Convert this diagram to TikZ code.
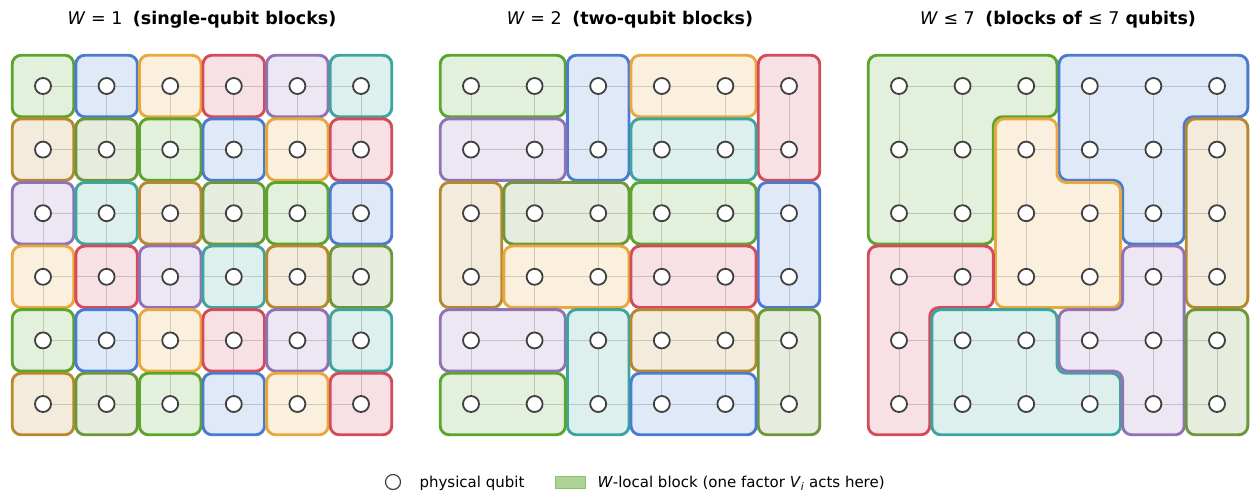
\documentclass[tikz,border=0pt]{standalone}
\usepackage{fontspec}
\setmainfont{DejaVu Sans}
\usetikzlibrary{backgrounds}

\definecolor{pal0}{HTML}{5BA52E}
\definecolor{pal1}{HTML}{4A7BCF}
\definecolor{pal2}{HTML}{E8A83E}
\definecolor{pal3}{HTML}{D44B5C}
\definecolor{pal4}{HTML}{9072B6}
\definecolor{pal5}{HTML}{3DA59D}
\definecolor{pal6}{HTML}{B7882E}
\definecolor{pal7}{HTML}{6E963A}
\definecolor{qubitline}{HTML}{404040}
\definecolor{gridline}{HTML}{D0D0D0}

\tikzset{
  block/.style={draw=#1, fill=#1, fill opacity=0.17, line width=2.9pt, rounded corners=9pt},
  qubit/.style={circle, draw=qubitline, fill=white, line width=1.8pt, minimum size=16pt, inner sep=0pt},
  coupling/.style={draw=gridline, line width=1pt},
  paneltitle/.style={font=\fontsize{17.5}{21}\selectfont\bfseries},
  legendtext/.style={font=\fontsize{15}{18}\selectfont, anchor=base west}
}

\newcommand{\rblock}[5]{\draw[block=#1] ({#2-0.484},{#3-0.484}) rectangle ({#4+0.484},{#5+0.484});}

\begin{document}
\begin{tikzpicture}[x=1pt,y=-1pt]
\useasboundingbox (0,0) rectangle (1252,491);

%Titles
\node[paneltitle] (title1) at (202,20) {{\mdseries\textit{W} = 1}\hspace{0.6em}(single-qubit blocks)};
\node[paneltitle] (title2) at (630,20) {{\mdseries\textit{W} = 2}\hspace{0.6em}(two-qubit blocks)};
\node[paneltitle] (title3) at (1058,20) {{\mdseries\textit{W} ≤ 7}\hspace{0.6em}(blocks of {\mdseries ≤ 7} qubits)};

%Panel 1
\begin{scope}[shift={(43,86)},x=63.6pt,y=-63.6pt]
\foreach \c in {0,...,5} \foreach \r in {0,...,5} {
  \pgfmathtruncatemacro{\k}{mod(6*\r+\c,8)}
  \rblock{pal\k}{\c}{\r}{\c}{\r}
}
\foreach \c in {0,...,5} \foreach \r in {0,...,5} \node[qubit] (a\c\r) at (\c,\r) {};
\end{scope}

%Panel 2
\begin{scope}[shift={(471,86)},x=63.6pt,y=-63.6pt]
\rblock{pal0}{0}{0}{1}{0}
\rblock{pal1}{2}{0}{2}{1}
\rblock{pal2}{3}{0}{4}{0}
\rblock{pal3}{5}{0}{5}{1}
\rblock{pal4}{0}{1}{1}{1}
\rblock{pal5}{3}{1}{4}{1}
\rblock{pal6}{0}{2}{0}{3}
\rblock{pal7}{1}{2}{2}{2}
\rblock{pal0}{3}{2}{4}{2}
\rblock{pal1}{5}{2}{5}{3}
\rblock{pal2}{1}{3}{2}{3}
\rblock{pal3}{3}{3}{4}{3}
\rblock{pal4}{0}{4}{1}{4}
\rblock{pal5}{2}{4}{2}{5}
\rblock{pal6}{3}{4}{4}{4}
\rblock{pal7}{5}{4}{5}{5}
\rblock{pal0}{0}{5}{1}{5}
\rblock{pal1}{3}{5}{4}{5}
\foreach \c in {0,...,5} \foreach \r in {0,...,5} \node[qubit] (b\c\r) at (\c,\r) {};
\end{scope}

%Panel 3
\begin{scope}[shift={(899,86)},x=63.6pt,y=-63.6pt]
\draw[block=pal0] (-0.484,-0.484) -- (2.484,-0.484) -- (2.484,0.484) -- (1.484,0.484) -- (1.484,2.484) -- (-0.484,2.484) -- cycle;
\draw[block=pal1] (2.516,-0.484) -- (5.484,-0.484) -- (5.484,0.484) -- (4.484,0.484) -- (4.484,2.484) -- (3.516,2.484) -- (3.516,1.484) -- (2.516,1.484) -- cycle;
\draw[block=pal2] (1.516,0.516) -- (2.484,0.516) -- (2.484,1.516) -- (3.484,1.516) -- (3.484,3.484) -- (1.516,3.484) -- cycle;
\rblock{pal6}{5}{1}{5}{3}
\draw[block=pal3] (-0.484,2.516) -- (1.484,2.516) -- (1.484,3.484) -- (0.484,3.484) -- (0.484,5.484) -- (-0.484,5.484) -- cycle;
\draw[block=pal5] (0.516,3.516) -- (2.484,3.516) -- (2.484,4.516) -- (3.484,4.516) -- (3.484,5.484) -- (0.516,5.484) -- cycle;
\draw[block=pal4] (3.516,2.516) -- (4.484,2.516) -- (4.484,5.484) -- (3.516,5.484) -- (3.516,4.484) -- (2.516,4.484) -- (2.516,3.516) -- (3.516,3.516) -- cycle;
\rblock{pal7}{5}{4}{5}{5}
\foreach \c in {0,...,5} \foreach \r in {0,...,5} \node[qubit] (c\c\r) at (\c,\r) {};
\end{scope}

%Couplings
\begin{scope}[on background layer]
\foreach \p in {a,b,c} {
  \foreach \c [count=\n] in {0,...,4} \foreach \r in {0,...,5} \draw[coupling] (\p\c\r) -- (\p\n\r);
  \foreach \r [count=\n] in {0,...,4} \foreach \c in {0,...,5} \draw[coupling] (\p\c\r) -- (\p\c\n);
}
\end{scope}

%Legend
\node[qubit, line width=1.2pt, minimum size=15pt] (legq) at (393,482) {};
\node[legendtext] (legqtext) at (416,487) {physical qubit};
\node[draw=pal0!70, line width=0.8pt, fill=pal0!50!white, minimum width=30pt, minimum height=12pt, inner sep=0pt] (legb) at (570,482) {};
\node[legendtext] (legbtext) at (594,487) {\textit{W}-local block (one factor \textit{V}\textsubscript{\textit{i}} acts here)};
\end{tikzpicture}
\end{document}
